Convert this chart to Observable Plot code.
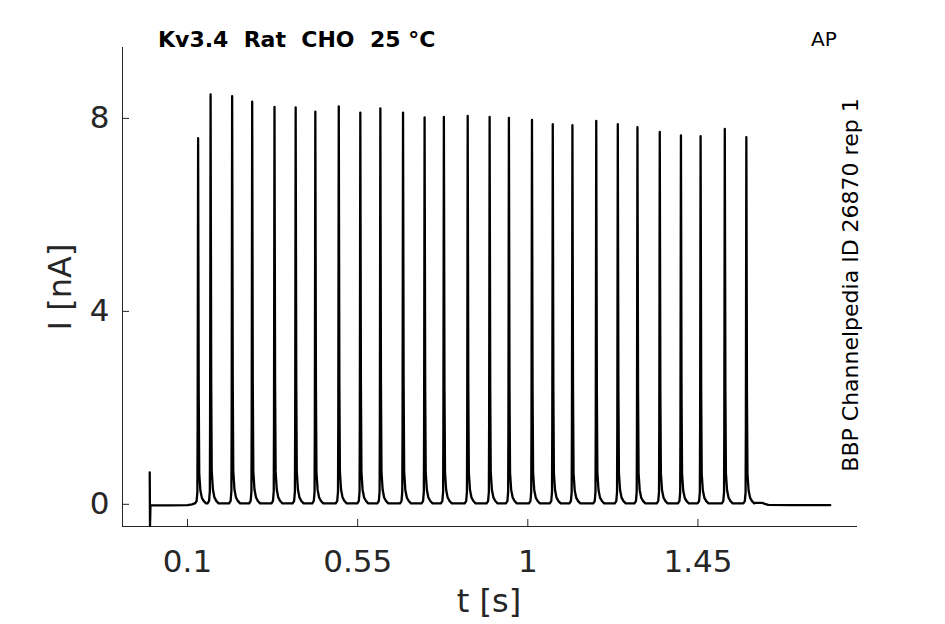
<!DOCTYPE html>
<html><head><meta charset="utf-8">
<script src="https://cdn.jsdelivr.net/npm/d3@7"></script>
<script src="https://cdn.jsdelivr.net/npm/@observablehq/plot@0.6"></script>
<style>body{margin:0;background:#fff}</style>
</head><body><div id="chart"></div>
<script>
// Spike peak times (s) and peak currents (nA)
const spikeTimes = [0.128, 0.161, 0.218, 0.271, 0.330, 0.386, 0.438, 0.500, 0.557, 0.610,
  0.670, 0.727, 0.778, 0.841, 0.899, 0.950, 1.011, 1.066, 1.118, 1.181,
  1.238, 1.290, 1.349, 1.405, 1.457, 1.521, 1.578];
const spikePeaks = [7.59, 8.50, 8.46, 8.35, 8.24, 8.23, 8.14, 8.25, 8.12, 8.21,
  8.12, 8.02, 8.03, 8.05, 8.03, 8.01, 7.97, 7.88, 7.86, 7.95,
  7.88, 7.82, 7.72, 7.65, 7.63, 7.78, 7.61];
// Shape of one spike: time offset from peak (s) and fraction of peak
const spikeShapeDt   = [-0.008, -0.004, -0.002, -0.0013, 0, 0.0016, 0.003, 0.006, 0.010, 0.015, 0.021];
const spikeShapeFrac = [0, 0.006, 0.03, 0.2, 1, 0.3, 0.08, 0.035, 0.015, 0.006, 0];
const trainBase = 0.02;
// Capacitive artifact at t = 0
const artifactT = [0, 0.0008, 0.002];
const artifactI = [0.66, -0.44, -0.02];
// Baseline before the train and after it
const preBaseT = [0.05, 0.10, 0.112, 0.119];
const preBaseI = [-0.02, -0.015, 0.0, 0.02];
const postBaseT = [1.600, 1.620, 1.627, 1.636, 1.70, 1.80];
const postBaseI = [0.03, 0.03, 0.01, -0.01, -0.015, -0.015];
// Axes
const xTicks = [0.1, 0.55, 1, 1.45];
const yTicks = [0, 4, 8];
const xDomain = [-0.072, 1.872];
const yDomain = [-0.46, 9.47];

const trace = [];
artifactT.forEach((t, k) => trace.push({t, i: artifactI[k]}));
preBaseT.forEach((t, k) => trace.push({t, i: preBaseI[k]}));
spikeTimes.forEach((ts, k) => {
  spikeShapeDt.forEach((dt, j) => trace.push({t: ts + dt, i: trainBase + spikeShapeFrac[j] * (spikePeaks[k] - trainBase)}));
});
postBaseT.forEach((t, k) => trace.push({t, i: postBaseI[k]}));
trace.sort((a, b) => a.t - b.t);

const W = 945, H = 624, mL = 122, mR = 88, mT = 47, mB = 98;
const axisColor = "#262626";
const plot = Plot.plot({
  width: W, height: H, marginLeft: mL, marginRight: mR, marginTop: mT, marginBottom: mB,
  style: {fontFamily: "DejaVu Sans", background: "white"},
  x: {domain: xDomain},
  y: {domain: yDomain},
  marks: [
    Plot.ruleX(xTicks, {x: d => d, stroke: axisColor, insetTop: H - mT - mB - 7}),
    Plot.ruleY(yTicks, {y: d => d, stroke: axisColor, insetRight: W - mL - mR - 7}),
    Plot.ruleX([xDomain[0]], {stroke: axisColor}),
    Plot.ruleY([yDomain[0]], {stroke: axisColor}),
    Plot.axisX(xTicks, {tickSize: 0, tickPadding: 23, fontSize: 31, color: axisColor, tickFormat: d => String(d), label: null}),
    Plot.axisY(yTicks, {tickSize: 0, tickPadding: 13, fontSize: 31, color: axisColor, tickFormat: d => String(d), label: null}),
    Plot.line(trace, {x: "t", y: "i", stroke: "black", strokeWidth: 2.3})
  ]
});
document.getElementById("chart").appendChild(plot);

const svg = d3.select(plot);
svg.append("text").attr("x", 158).attr("y", 46.5)
  .attr("font-family", "DejaVu Sans").attr("font-weight", "bold").attr("font-size", 22)
  .attr("text-anchor", "start").attr("fill", "black")
  .style("white-space", "pre").text("Kv3.4  Rat  CHO  25 °C");
svg.append("text").attr("x", 811).attr("y", 46)
  .attr("font-family", "DejaVu Sans").attr("font-size", 20).attr("text-anchor", "start").attr("fill", "black")
  .text("AP");
svg.append("text").attr("transform", "translate(858,285) rotate(-90)")
  .attr("font-family", "DejaVu Sans").attr("font-size", 22).attr("text-anchor", "middle").attr("fill", "black")
  .text("BBP Channelpedia ID 26870 rep 1");
svg.append("text").attr("x", 489).attr("y", 612)
  .attr("font-family", "DejaVu Sans").attr("font-size", 32).attr("text-anchor", "middle").attr("fill", axisColor)
  .text("t [s]");
svg.append("text").attr("transform", "translate(71,287) rotate(-90)")
  .attr("font-family", "DejaVu Sans").attr("font-size", 32).attr("text-anchor", "middle").attr("fill", axisColor)
  .text("I [nA]");
</script>
</body></html>
